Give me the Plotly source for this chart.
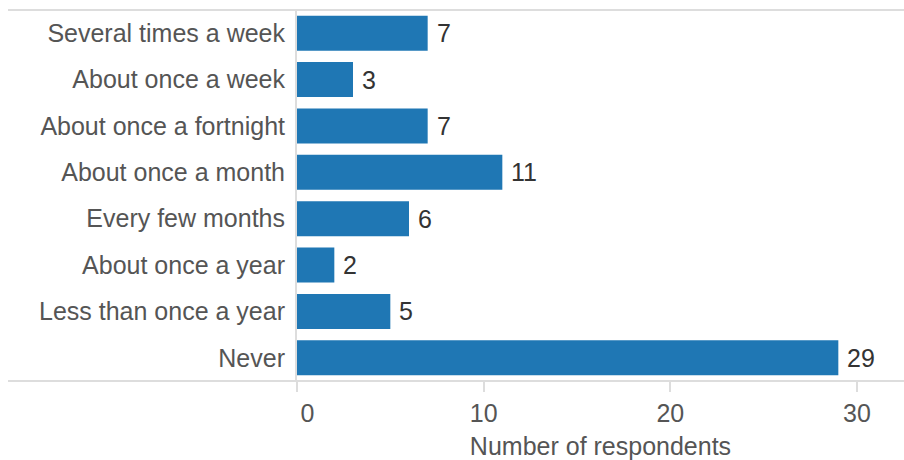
import plotly.graph_objects as go

categories = [
    "Several times a week",
    "About once a week",
    "About once a fortnight",
    "About once a month",
    "Every few months",
    "About once a year",
    "Less than once a year",
    "Never",
]
counts = [7, 3, 7, 11, 6, 2, 5, 29]
tick_vals = [0, 10, 20, 30]
tick_text = ["\u00a0\u00a0\u00a00", "10", "20", "30"]
x_title = "Number of respondents"

FONT = "Liberation Sans, Arial, sans-serif"
GRID = "#dddddd"
FS = 25

fig = go.Figure()
fig.add_trace(go.Bar(
    x=counts,
    y=categories,
    orientation="h",
    marker=dict(color="#1f77b4", line=dict(width=0)),
    hoverinfo="x+y",
))

for c, v in zip(categories, counts):
    fig.add_annotation(
        x=v, y=c, xref="x", yref="y", text=str(v),
        showarrow=False, xanchor="left", yanchor="middle", xshift=7,
        font=dict(family=FONT, size=FS, color="#333333"),
    )

W, H = 904, 460
L, R, T, B = 297, 0, 10, 79
pw = W - L - R

# full-width top and bottom rules
for yy in (0, 1):
    fig.add_shape(
        type="line", xref="paper", yref="paper",
        x0=(8 - L) / pw, x1=1, y0=yy, y1=yy,
        line=dict(color=GRID, width=2), layer="above",
    )

fig.update_layout(
    width=W, height=H,
    margin=dict(l=L, r=R, t=T, b=B, pad=0),
    paper_bgcolor="white", plot_bgcolor="white",
    showlegend=False,
    bargap=0.245,
    font=dict(family=FONT, size=FS, color="#555555"),
    xaxis=dict(
        range=[0, pw / (560 / 30)],
        tickvals=tick_vals, ticktext=tick_text,
        ticks="outside", ticklen=10, tickwidth=2, tickcolor=GRID,
        showgrid=False, zeroline=False, showline=False,
        tickfont=dict(family=FONT, size=FS, color="#555555"),
        title=dict(text=x_title, standoff=12,
                   font=dict(family=FONT, size=FS, color="#555555")),
        fixedrange=True,
    ),
    yaxis=dict(
        autorange="reversed",
        showgrid=False, zeroline=False,
        showline=True, linecolor=GRID, linewidth=2,
        ticks="", ticklabelstandoff=5,
        tickfont=dict(family=FONT, size=FS, color="#555555"),
        fixedrange=True,
    ),
)

fig.write_html("out.html", config={"displayModeBar": False})
